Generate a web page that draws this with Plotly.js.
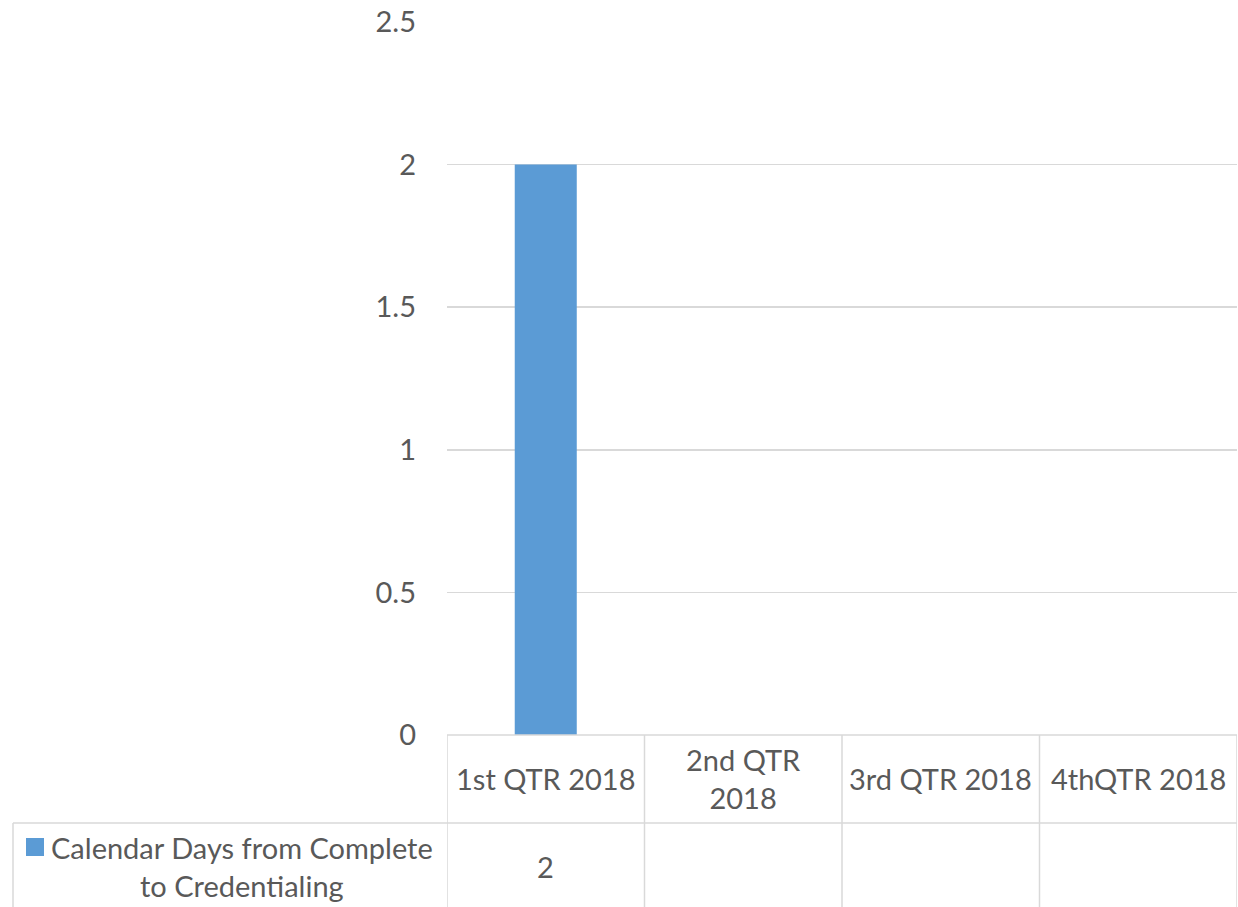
<!DOCTYPE html>
<html><head><meta charset="utf-8">
<script src="https://cdn.plot.ly/plotly-3.0.1.min.js"></script>
<style>html,body{margin:0;padding:0;background:#fff}#chart{width:1238px;height:907px}</style>
</head><body><div id="chart"></div>
<script>
var categories = ["1st QTR 2018", "2nd QTR 2018", "3rd QTR 2018", "4thQTR 2018"];
var headerLabels = ["1st QTR 2018", "2nd QTR<br>2018", "3rd QTR 2018", "4thQTR 2018"];
var seriesName = "Calendar Days from Complete<br>to Credentialing";
var values = [2, null, null, null];
var yTicks = [0, 0.5, 1, 1.5, 2, 2.5];

var FONT = "Lato, 'Open Sans', sans-serif";
var TXT = "#595959";
var GRID = "#d9d9d9";
var BLUE = "#5B9BD5";
var FS = 29;

var W = 1238, H = 907, mL = 447, mR = 1, mT = 22, mB = 172;
var ph = H - mT - mB, pw = W - mL - mR;
function py(p){ return (H - mB - p) / ph; }     // pixel y -> paper y
function px(p){ return (p - mL) / pw; }         // pixel x -> paper x

var shapes = [];
var line = {color: GRID, width: 1.5};
shapes.push({type:'line', xref:'paper', yref:'paper', x0:0, x1:1, y0:0, y1:0, line:line});
shapes.push({type:'line', xref:'paper', yref:'paper', x0:px(13), x1:1, y0:py(823), y1:py(823), line:line});
shapes.push({type:'line', xref:'paper', yref:'paper', x0:px(13), x1:px(13), y0:py(823), y1:py(907), line:line});
for (var i = 0; i <= categories.length; i++) {
  shapes.push({type:'line', xref:'x', yref:'paper', x0:i-0.5, x1:i-0.5, y0:0, y1:py(907), line:line});
}
shapes.push({type:'rect', xref:'paper', yref:'paper', x0:px(26), x1:px(44), y0:py(856), y1:py(838), fillcolor:BLUE, line:{width:0}});

var annotations = [];
categories.forEach(function(c, i){
  annotations.push({x:c, xref:'x', y:py(779), yref:'paper', text:headerLabels[i], showarrow:false,
    font:{family:FONT, size:FS, color:TXT}, xanchor:'center', yanchor:'middle', align:'center'});
  annotations.push({x:c, xref:'x', y:py(866), yref:'paper', text: values[i] == null ? '' : String(values[i]), showarrow:false,
    font:{family:FONT, size:FS, color:TXT}, xanchor:'center', yanchor:'middle'});
});
annotations.push({x:px(49), xref:'paper', y:py(866), yref:'paper', text:seriesName, showarrow:false,
  font:{family:FONT, size:FS, color:TXT}, xanchor:'left', yanchor:'middle', align:'center'});

var data = [{
  type:'bar', x:categories, y:values, marker:{color:BLUE}, name:seriesName.replace('<br>',' '),
  hoverinfo:'x+y'
}];

var layout = {
  width:W, height:H, margin:{l:mL, r:mR, t:mT, b:mB, pad:0},
  paper_bgcolor:'#fff', plot_bgcolor:'#fff', showlegend:false, bargap:0.686,
  font:{family:FONT, color:TXT},
  xaxis:{type:'category', showticklabels:false, showgrid:false, zeroline:false, showline:false, ticks:'', range:[-0.5,3.5], fixedrange:true},
  yaxis:{range:[0,2.5], tickvals:yTicks, ticktext:yTicks.map(String), showgrid:true, gridcolor:GRID, gridwidth:1.5,
    zeroline:false, showline:false, ticks:'', ticklabelstandoff:30, tickfont:{family:FONT, size:FS, color:TXT}, fixedrange:true},
  shapes:shapes, annotations:annotations
};
Plotly.newPlot('chart', data, layout, {displayModeBar:false, staticPlot:true});
</script></body></html>
